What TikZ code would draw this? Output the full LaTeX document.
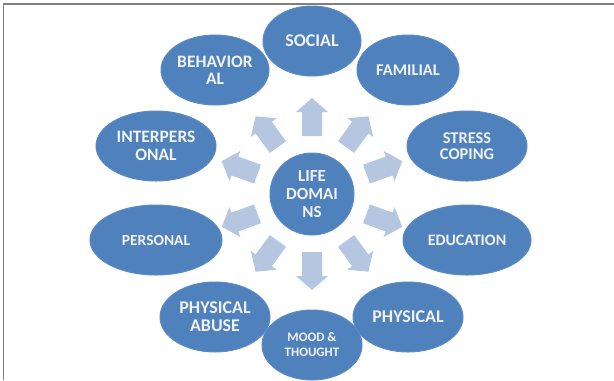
\documentclass[tikz,border=0pt]{standalone}
\usepackage{fontspec}
\setmainfont{Carlito}
\usetikzlibrary{shapes.geometric}
\definecolor{bubblefill}{HTML}{4F81BD}
\definecolor{bubbleedge}{HTML}{5B8BC4}
\definecolor{arrowfill}{HTML}{B4C6E0}
\definecolor{framegray}{HTML}{7F7F7F}
\begin{document}
\begin{tikzpicture}[x=1bp,y=-1bp,
  bubble/.style={ellipse, fill=bubblefill, draw=bubbleedge, line width=1bp,
    inner sep=0pt, align=center, text=white!95!black, font=\bfseries},
  blockarrow/.style={fill=arrowfill, draw=none}]
\useasboundingbox (0,0) rectangle (614,380);
% frame lines along the top and left edges
\draw[framegray, line width=1.5bp] (3.5,380) -- (3.5,4) -- (614,4);

% hub
\node[bubble, minimum width=84bp, minimum height=82bp,
  font=\bfseries\fontsize{17}{18.5}\selectfont] (life) at (312,194) {LIFE\\DOMAI\\NS};

% surrounding domains
\node[bubble, minimum width=98bp, minimum height=70bp,
  font=\bfseries\fontsize{18}{18}\selectfont] (social) at (312,41) {SOCIAL};
\node[bubble, minimum width=108bp, minimum height=70bp,
  font=\bfseries\fontsize{17.5}{17}\selectfont] (behav) at (215,70) {BEHAVIOR\\AL};
\node[bubble, minimum width=102bp, minimum height=70bp,
  font=\bfseries\fontsize{16.5}{17}\selectfont] (familial) at (408,70) {FAMILIAL};
\node[bubble, minimum width=120bp, minimum height=70bp,
  font=\bfseries\fontsize{17.5}{18}\selectfont] (inter) at (156,146) {INTERPERS\\ONAL};
\node[bubble, minimum width=120bp, minimum height=70bp,
  font=\bfseries\fontsize{16.5}{16.5}\selectfont] (stress) at (467,146) {STRESS\\COPING};
\node[bubble, minimum width=132bp, minimum height=70bp,
  font=\bfseries\fontsize{15.5}{16}\selectfont] (personal) at (156,240) {PERSONAL};
\node[bubble, minimum width=128bp, minimum height=70bp,
  font=\bfseries\fontsize{16}{16}\selectfont] (education) at (467,240) {EDUCATION};
\node[bubble, minimum width=110bp, minimum height=70bp,
  font=\bfseries\fontsize{18}{18}\selectfont] (abuse) at (215,317) {PHYSICAL\\ABUSE};
\node[bubble, minimum width=110bp, minimum height=70bp,
  font=\bfseries\fontsize{18}{18}\selectfont] (physical) at (408,317) {PHYSICAL};
\node[bubble, minimum width=100bp, minimum height=70bp,
  font=\bfseries\fontsize{13}{15}\selectfont] (mood) at (312,345) {MOOD \&\\THOUGHT};

% block arrows radiating from the hub
\foreach \a in {90,54,20,-20,-54,-90,-126,-160,160,126}{
  \fill[blockarrow, shift={(life.center)}, rotate=\a]
    (58,-10) -- (82,-10) -- (82,-16) -- (96,0) -- (82,16) -- (82,10) -- (58,10) -- cycle;
}
\end{tikzpicture}
\end{document}
